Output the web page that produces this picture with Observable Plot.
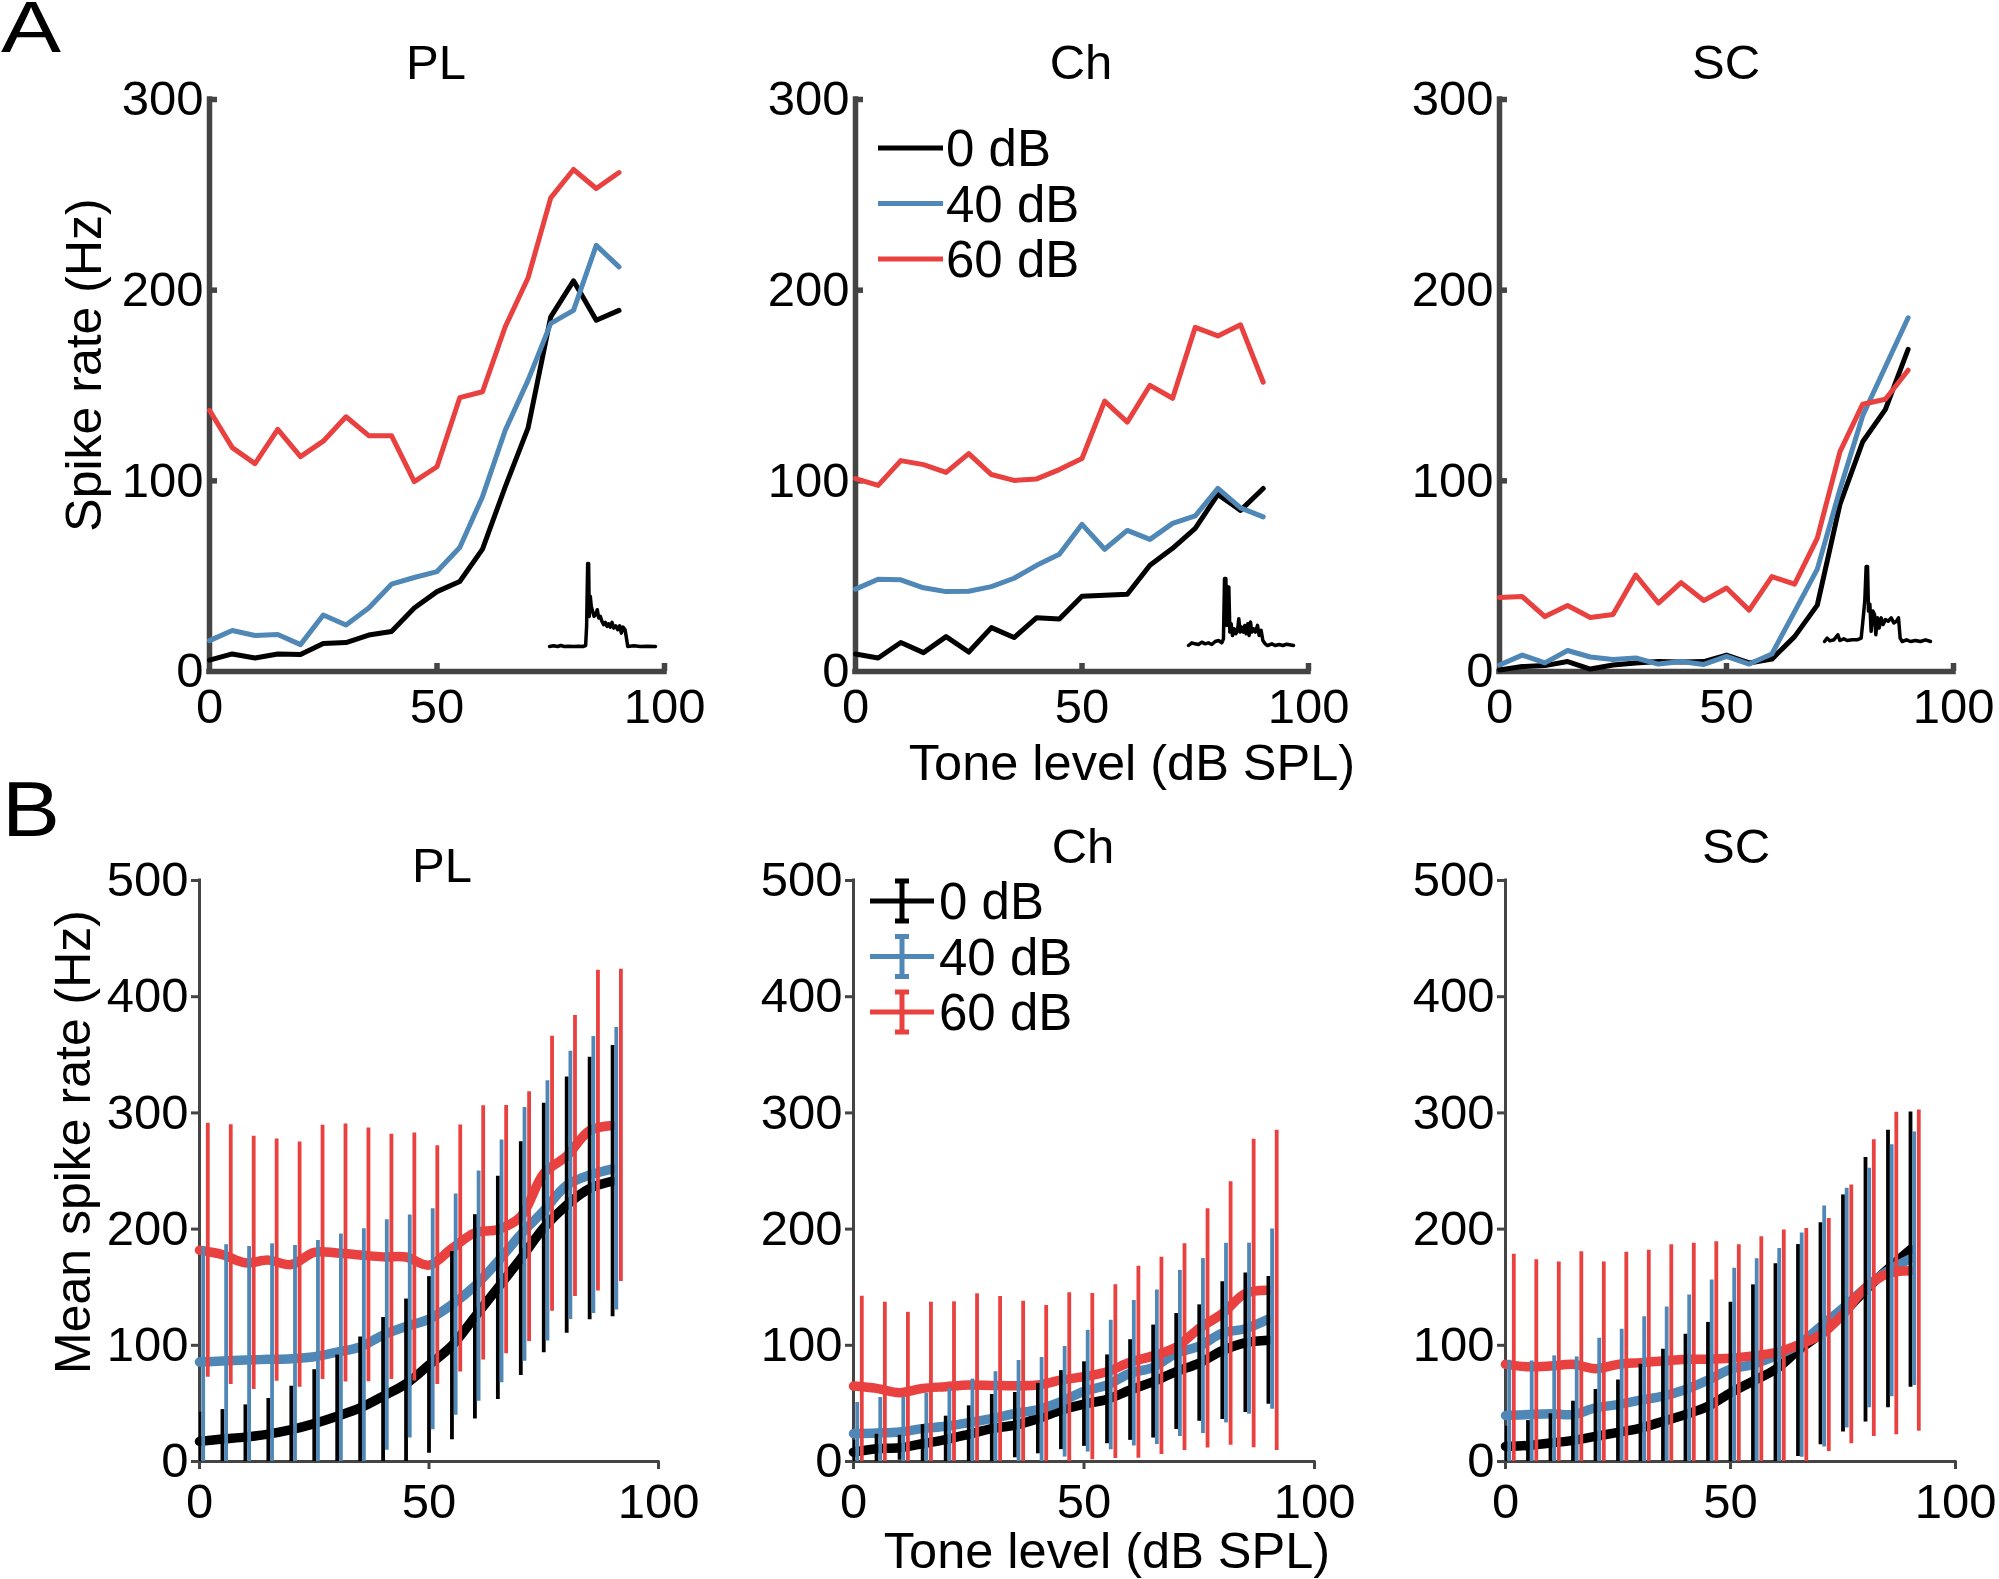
<!DOCTYPE html>
<html><head><meta charset="utf-8">
<script src="https://cdn.jsdelivr.net/npm/d3@7"></script>
<script src="https://cdn.jsdelivr.net/npm/@observablehq/plot@0.6"></script>
<style>
body{margin:0;background:#fff;}
#fig{position:relative;width:1999px;height:1579px;overflow:hidden;background:#fff;}
#fig svg{position:absolute;overflow:visible;}
</style></head><body><div id="fig"></div>
<script>
// ---------------- data ----------------
const levels = [0,5,10,15,20,25,30,35,40,45,50,55,60,65,70,75,80,85,90];
const maskers = ["0 dB","40 dB","60 dB"];
const regions = ["PL","Ch","SC"];
const xTicks = [0,50,100];
const yTicksA = [0,100,200,300];
const yTicksB = [0,100,200,300,400,500];

// Panel A: spike rate (Hz) of example units
const a_PL_0  = [6,9.2,7.1,9.2,8.9,14.7,15.2,19.1,21,33.3,41.9,47.2,64.2,96.9,127.6,186,204.9,184.2,189.4];
const a_PL_40 = [16.2,21.5,18.9,19.4,14.1,29.6,24.4,33.3,45.8,49.3,52.4,65,91.7,126.5,152.7,182.6,189.4,223.5,212.2];
const a_PL_60 = [137,117.4,109,127,112.7,120.8,133.6,123.7,123.7,99.6,107.4,143.6,146.7,180.8,206.4,248.4,263.3,253.3,261.7];
const a_Ch_0  = [9.2,7.1,15.2,9.9,18.3,10.2,23,17.8,28.2,27.5,39.5,40,40.5,55.7,64.6,75.1,92.9,84.5,96];
const a_Ch_40 = [43.2,48.4,48.1,43.9,41.9,42.1,44.5,48.9,55.7,61.5,77.2,64.1,74,69.3,77.7,81.6,96,85.8,81.1];
const a_Ch_60 = [101.2,97.6,110.6,108.5,104.4,114.3,103.3,100.2,101,105.9,111.7,141.8,130.8,150.1,143.3,180.5,176,181.8,151.7];
const a_SC_0  = [0.8,2.6,3.1,5.2,1.3,3.4,4.5,5.2,5,5.2,8.6,4.5,6.5,18.3,34.8,87.8,120.5,137.5,169];
const a_SC_40 = [3.4,8.6,4.5,11,7.6,6.3,7.1,3.9,5.2,3.7,7.9,3.9,9.2,31.4,53.7,95.6,134.1,159.8,185.5];
const a_SC_60 = [38.8,39.3,28.8,34.6,28.3,29.9,50.6,35.9,46.6,37.2,43.8,32.2,49.8,45.8,70,115.3,140.2,142.8,158];

// Inset PSTHs (time in % of window, rate in arbitrary units)
const psth_PL_t = [0,3.8,7.6,10.7,13.9,18,22.7,27.4,31.5,34.1,35,36,36.9,37.5,38.5,39.4,40.7,42,43.5,45.1,46.4,47.9,49.5,51.1,52.7,54.3,55.8,57.4,59,60.6,62.5,64.4,66.2,67.8,69.4,71.3,72.6,73.8,79.5,85.8,92.1,100];
const psth_PL_v = [0,2,0,3,0,1,0,1,0,3,60,248,248,90,150,120,105,90,95,110,85,90,75,65,72,60,68,58,72,55,62,50,62,40,58,50,25,0,2,0,1,0];
const psth_Ch_t = [0,3.2,6.3,9.5,12.7,15.9,19,22.2,25.4,28.6,31.7,33.3,34.3,35.6,36.5,37.5,38.4,39.4,40.6,41.9,43.5,45.1,46.7,47.9,49.2,50.8,52.4,53.7,54.9,56.5,57.8,59,60.3,61.9,63.8,65.7,67.3,69.2,70.8,73,75.2,79.4,82.5,86.3,89.8,93.7,100];
const psth_Ch_v = [0,8,5,3,10,5,8,3,12,15,8,20,200,200,60,175,175,40,65,30,50,35,45,80,40,55,40,60,35,65,30,70,40,50,40,60,30,45,15,5,0,5,0,3,0,4,0];
const psth_SC_t = [0,2.5,5,8.8,12.6,14.5,18.2,21.4,26.1,30.8,34.6,36.5,38,39.3,40.6,41.5,42.8,44,45.6,47.2,48.4,50,51.6,53.5,55.3,57.5,60.1,62.9,65.4,67.9,69.8,71.4,73.3,77.4,81.1,85.8,90.6,95.3,100];
const psth_SC_v = [0,10,2,5,20,3,8,3,5,5,10,70,120,222,222,90,110,30,90,80,20,70,40,70,50,65,60,70,55,60,70,10,0,5,0,3,0,5,0];

// Panel B: population mean and SD of spike rate (Hz)
const b_PL_mean_0  = [17.3,19.3,21,23.6,27.4,32.6,38.9,46.1,56.2,66.9,83.1,99.7,124.5,149.4,174.6,201,220.6,234.9,241.2];
const b_PL_sd_0    = [25.1,25.4,27.7,30.6,37.4,46.4,52.7,61.1,67.7,72.9,76,81,87.9,96.1,100.6,107.4,110.2,113,116.7];
const b_PL_mean_40 = [85.6,86.5,87.3,87.9,88.5,90.2,94.2,98.6,108.8,116.2,122.5,135,151,172.2,195.4,215.7,237.6,246.5,251.9];
const b_PL_sd_40   = [99.4,100,97.7,99.4,97.4,100,101.5,101.7,99.2,95.9,95.1,95.3,99.1,104.5,109.2,112,115.4,119.2,121.6];
const b_PL_mean_60 = [181.8,178.1,171,173.3,169.5,180,179.5,177.8,176.1,176,169,183.3,196.7,199.6,210.7,247.7,262.9,284.7,289.2];
const b_PL_sd_60   = [109.2,111.8,109,104.2,105.5,109.4,111,109.2,105.5,106.8,102.7,106.3,109.4,106.8,107.5,118.3,121,138,134.4];
const b_Ch_mean_0  = [8.1,11,11.8,15.3,18.8,23.4,28.3,31.3,36.9,44.2,49.4,53.5,61.5,68.8,77.4,84.7,95.4,102.2,104.3];
const b_Ch_sd_0    = [10.1,12.4,10.7,16.4,20.2,24.5,29.4,28.1,30.3,34,36.4,38.2,43.3,48.6,49.9,50.1,59.3,60,55];
const b_Ch_mean_40 = [24,24.5,25.4,28.3,30.3,33.5,36.9,41.3,44.7,51.4,60.5,65.8,75.9,81.1,93,99.3,110.5,114.3,122.5];
const b_Ch_sd_40   = [26.8,30.6,29.7,30.3,32.6,37.4,40.4,45.6,44.8,47.6,52.4,55.7,62.6,66.4,71.5,75.3,77.3,73.6,77.5];
const b_Ch_mean_60 = [64.9,62.9,59.2,62.9,64.4,65.8,65.5,65.2,65.8,70.1,73,77.3,85.4,90.9,98.5,114.6,127.3,144.6,147.3];
const b_Ch_sd_60   = [77.4,74.2,69.2,74.2,73,78.5,76.5,72.8,68.4,75.1,71.6,74.8,82.6,84.9,89,103,113.4,132.7,137.8];
const b_SC_mean_0  = [13,13.8,15.9,18.2,21.6,25.1,28.8,34.6,40.4,47.6,59.1,69.2,79.3,95.5,109.9,127.4,147.8,165.6,182.4];
const b_SC_sd_0    = [17.3,21.4,25.1,33.7,40.4,45,54.8,62,69.2,72.1,77.9,82.8,90.9,91.2,95.5,102,113.8,119.4,118.4];
const b_SC_mean_40 = [39.5,40.4,41.2,40.4,46.1,49,52.8,56.2,62,70.1,79.3,83.6,90.9,100.2,116.1,132,149.3,164.2,174.5];
const b_SC_sd_40   = [47.6,46.1,49.7,49.6,60,64.9,71.8,76.8,81.3,86.2,87.1,90.9,92.3,96.5,103.7,103.1,103.1,108.4,109];
const b_SC_mean_60 = [83.6,81.6,82.2,83.6,79.9,83.6,85.1,86.5,88,88,88.8,90.9,93.7,100.2,108.9,126.6,149.3,161.8,164.2];
const b_SC_sd_60   = [94.7,92,89.4,97,91.7,96.4,96.6,100.1,99.8,101.2,97.8,102.6,105.6,100.3,100.2,111.3,127.7,138.7,138.2];

// ---------------- style & layout ----------------
const colors = ["#000000","#4f87b6","#e8413f"];
const barDx = [0, 3.7, 8.3];
const AX = "#444444";
const FONT = "'Liberation Sans', Arial, Helvetica, sans-serif";
const TICK_FS = "49px";
const framesA = [{x0:209,x1:664,yb:671,yt:99},{x0:855,x1:1308,yb:671,yt:99},{x0:1499,x1:1953,yb:671,yt:99}];
const framesB = [{x0:199,x1:658,yb:1461,yt:880},{x0:853,x1:1314,yb:1461,yt:880},{x0:1505,x1:1955,yb:1461,yt:880}];
const insetBoxes = [{x:549,w:106,yb:646,h:83},{x:1188,w:105,yb:645,h:67},{x:1824,w:106,yb:641,h:75}];

const fig = document.getElementById("fig");
function place(svg, left, top){ svg.style.left = left+"px"; svg.style.top = top+"px"; fig.appendChild(svg); }

const seriesA = [[a_PL_0,a_PL_40,a_PL_60],[a_Ch_0,a_Ch_40,a_Ch_60],[a_SC_0,a_SC_40,a_SC_60]];
const seriesB = [
  [[b_PL_mean_0,b_PL_sd_0],[b_PL_mean_40,b_PL_sd_40],[b_PL_mean_60,b_PL_sd_60]],
  [[b_Ch_mean_0,b_Ch_sd_0],[b_Ch_mean_40,b_Ch_sd_40],[b_Ch_mean_60,b_Ch_sd_60]],
  [[b_SC_mean_0,b_SC_sd_0],[b_SC_mean_40,b_SC_sd_40],[b_SC_mean_60,b_SC_sd_60]]
];
const psths = [[psth_PL_t,psth_PL_v],[psth_Ch_t,psth_Ch_v],[psth_SC_t,psth_SC_v]];

// ---------------- panel A ----------------
seriesA.forEach((series, r) => {
  const fr = framesA[r];
  const mL=120, mR=60, mT=14, mB=70;
  const pw = fr.x1-fr.x0, ph = fr.yb-fr.yt;
  const rows = series.flatMap((vals,k)=>vals.map((v,i)=>({level:levels[i], rate:v, masker:maskers[k]})));
  const svg = Plot.plot({
    width: pw+mL+mR, height: ph+mT+mB,
    marginLeft:mL, marginRight:mR, marginTop:mT, marginBottom:mB,
    style:{background:"transparent", fontFamily:FONT, fontSize:TICK_FS, color:"#000", overflow:"visible"},
    x:{domain:[0,100]}, y:{domain:[0,300]},
    color:{domain:maskers, range:colors},
    marks:[
      Plot.axisX(xTicks,{tickSize:0, tickPadding:17, label:null}),
      Plot.axisY(yTicksA,{tickSize:0, tickPadding:6, label:null}),
      Plot.tickY(yTicksA.slice(1),{y:d=>d, stroke:AX, strokeWidth:5.5, insetRight:pw-8}),
      Plot.tickX(xTicks.slice(1),{x:d=>d, stroke:AX, strokeWidth:5.5, insetTop:ph-8}),
      Plot.ruleX([0],{stroke:AX, strokeWidth:5.5, strokeLinecap:"square"}),
      Plot.ruleY([0],{stroke:AX, strokeWidth:5.5, strokeLinecap:"square"}),
      Plot.line(rows,{x:"level", y:"rate", z:"masker", stroke:"masker", strokeWidth:5})
    ]
  });
  place(svg, fr.x0-mL, fr.yt-mT);

  // inset PSTH
  const [t, v] = psths[r];
  const b = insetBoxes[r];
  const ins = Plot.plot({
    width:b.w+4, height:b.h+4, margin:2,
    style:{background:"transparent", overflow:"visible"},
    x:{domain:[0,100], axis:null}, y:{domain:[0,d3.max(v)], axis:null},
    marks:[Plot.line(t.map((ti,i)=>({t:ti, v:v[i]})),{x:"t", y:"v", stroke:"#000", strokeWidth:3.5})]
  });
  place(ins, b.x-2, b.yb-b.h-2);
});

// ---------------- panel B ----------------
seriesB.forEach((series, r) => {
  const fr = framesB[r];
  const mL=120, mR=60, mT=14, mB=75;
  const pw = fr.x1-fr.x0, ph = fr.yb-fr.yt;
  const rows = series.flatMap(([m,s],k)=>m.map((v,i)=>({level:levels[i], mean:v, lo:v-s[i], hi:v+s[i], masker:maskers[k], k})));
  const svg = Plot.plot({
    width: pw+mL+mR, height: ph+mT+mB,
    marginLeft:mL, marginRight:mR, marginTop:mT, marginBottom:mB,
    style:{background:"transparent", fontFamily:FONT, fontSize:TICK_FS, color:"#000", overflow:"visible"},
    x:{domain:[0,100]}, y:{domain:[0,500]},
    color:{domain:maskers, range:colors},
    marks:[
      Plot.axisX(xTicks,{tickSize:8, tickPadding:14, stroke:AX, strokeWidth:3, label:null}),
      Plot.axisY(yTicksB,{tickSize:8, tickPadding:3, stroke:AX, strokeWidth:3, label:null}),
      Plot.ruleX([0],{stroke:AX, strokeWidth:3, strokeLinecap:"square"}),
      Plot.ruleY([0],{stroke:AX, strokeWidth:3, strokeLinecap:"square"}),
      Plot.line(rows,{x:"level", y:"mean", z:"masker", stroke:"masker", strokeWidth:9.5, curve:"catmull-rom"}),
      ...[0,1,2].map(k => Plot.ruleX(rows.filter(d=>d.k===k),{x:"level", y1:"lo", y2:"hi", stroke:"masker", strokeWidth:3.8, dx:barDx[k], clip:true}))
    ]
  });
  place(svg, fr.x0-mL, fr.yt-mT);
});

// ---------------- text overlay ----------------
const ov = d3.create("svg").attr("width",1999).attr("height",1579)
  .style("left","0px").style("top","0px").style("pointer-events","none")
  .attr("font-family", FONT).attr("fill","#000");
function txt(s, x, y, size, anchor="middle", rot=0){
  const t = ov.append("text").attr("x",x).attr("y",y).attr("font-size",size).attr("text-anchor",anchor).text(s);
  if (rot) t.attr("transform",`rotate(${rot},${x},${y})`);
  return t;
}
txt("A", 1, 52, 72, "start").attr("textLength",60).attr("lengthAdjust","spacingAndGlyphs");
txt("B", 2, 836, 78, "start").attr("textLength",58).attr("lengthAdjust","spacingAndGlyphs");
const titleA = [[436,79],[1081,79],[1726,79]];
const titleB = [[442,882],[1083,863],[1736,863]];
regions.forEach((g,i)=>{ txt(g, titleA[i][0], titleA[i][1], 49); txt(g, titleB[i][0], titleB[i][1], 49); });
txt("Tone level (dB SPL)", 1132, 780, 50.5);
txt("Tone level (dB SPL)", 1107, 1568, 50.5);
txt("Spike rate (Hz)", 101, 365, 50, "middle", -90);
txt("Mean spike rate (Hz)", 90, 1142, 50, "middle", -90);

// legend A (lines)
maskers.forEach((m,k)=>{
  const y = 148 + k*55.5;
  ov.append("line").attr("x1",878).attr("x2",943).attr("y1",y).attr("y2",y).attr("stroke",colors[k]).attr("stroke-width",5);
  txt(m, 946, y, 51, "start").attr("dy","0.36em");
});
// legend B (error-bar symbols)
maskers.forEach((m,k)=>{
  const y = 901 + k*55.5;
  const g = ov.append("g").attr("stroke",colors[k]).attr("stroke-width",5);
  g.append("line").attr("x1",870).attr("x2",934).attr("y1",y).attr("y2",y);
  g.append("line").attr("x1",902).attr("x2",902).attr("y1",y-20).attr("y2",y+20);
  g.append("line").attr("x1",895).attr("x2",909).attr("y1",y-20).attr("y2",y-20);
  g.append("line").attr("x1",895).attr("x2",909).attr("y1",y+20).attr("y2",y+20);
  txt(m, 939, y, 51, "start").attr("dy","0.36em");
});
fig.appendChild(ov.node());
</script></body></html>
